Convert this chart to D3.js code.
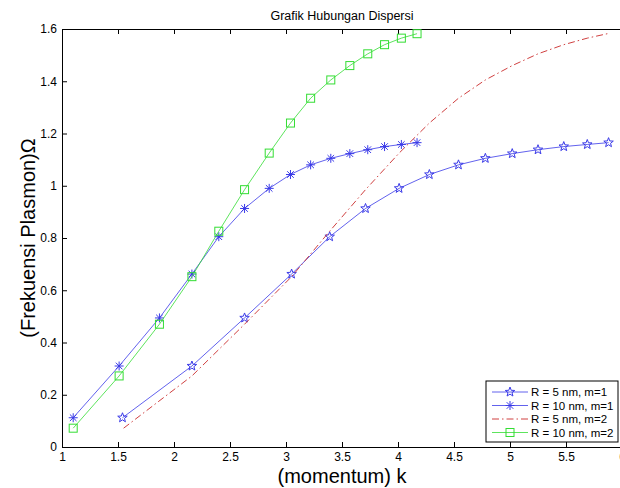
<!DOCTYPE html>
<html>
<head>
<meta charset="utf-8">
<script src="https://cdn.jsdelivr.net/npm/d3@7"></script>
<style>
  body { margin: 0; background: #fff; }
  svg { display: block; font-family: Arial, "Liberation Sans", sans-serif; }
</style>
</head>
<body>
<svg id="chart"></svg>
<script>
const width = 620;
const height = 488;

// data
const k5m1 = [1.54, 2.16, 2.63, 3.05, 3.39, 3.71, 4.01, 4.28, 4.54, 4.78, 5.02, 5.25, 5.48, 5.69, 5.88];
const k10 = [1.10, 1.51, 1.87, 2.16, 2.40, 2.63, 2.85, 3.04, 3.22, 3.40, 3.57, 3.73, 3.88, 4.03, 4.17];
const omegaM1 = [0.112, 0.31, 0.494, 0.662, 0.805, 0.913, 0.99, 1.043, 1.08, 1.105, 1.123, 1.138, 1.15, 1.158, 1.165];
const k5m2 = [1.55, 2.16, 2.63, 3.05, 3.39, 3.71, 4.01, 4.28, 4.54, 4.78, 5.02, 5.25, 5.48, 5.69, 5.87];
const omegaM2 = [0.072, 0.272, 0.47, 0.652, 0.826, 0.985, 1.125, 1.24, 1.335, 1.405, 1.46, 1.505, 1.54, 1.565, 1.582];

const xTicks = [1, 1.5, 2, 2.5, 3, 3.5, 4, 4.5, 5, 5.5, 6];
const yTicks = [0, 0.2, 0.4, 0.6, 0.8, 1, 1.2, 1.4, 1.6];

const series = [
    { name: "R = 5 nm, m=1", k: k5m1, w: omegaM1, color: "#3a3ae8", marker: "star", dash: null },
    { name: "R = 10 nm, m=1", k: k10, w: omegaM1, color: "#3a3ae8", marker: "asterisk", dash: null },
    { name: "R = 5 nm, m=2", k: k5m2, w: omegaM2, color: "#d04040", marker: null, dash: "7,3,1.5,3" },
    { name: "R = 10 nm, m=2", k: k10, w: omegaM2, color: "#33dd33", marker: "square", dash: null }
];

const margin = { left: 62, top: 29 };
const plotW = 560, plotH = 418;

const svg = d3.select("#chart")
    .attr("width", width)
    .attr("height", height);

const x = d3.scaleLinear().domain([1, 6]).range([margin.left, margin.left + plotW]);
const y = d3.scaleLinear().domain([0, 1.6]).range([margin.top + plotH, margin.top]);

// axes box with inward ticks (matlab style)
const axisBottomG = svg.append("g")
    .attr("transform", `translate(0,${margin.top + plotH})`)
    .call(d3.axisBottom(x).tickValues(xTicks).tickFormat(d3.format("")).tickSizeInner(-5).tickSizeOuter(0).tickPadding(5));
const axisTopG = svg.append("g")
    .attr("transform", `translate(0,${margin.top})`)
    .call(d3.axisTop(x).tickValues(xTicks).tickFormat("").tickSizeInner(-5).tickSizeOuter(0));
const axisLeftG = svg.append("g")
    .attr("transform", `translate(${margin.left},0)`)
    .call(d3.axisLeft(y).tickValues(yTicks).tickFormat(d3.format("")).tickSizeInner(-5).tickSizeOuter(0).tickPadding(5));

svg.selectAll(".domain").attr("stroke", "#000").attr("stroke-width", 1);
svg.selectAll(".tick line").attr("stroke", "#000");
svg.selectAll(".tick text").attr("font-size", 12).attr("fill", "#000")
    .attr("font-family", "Arial, 'Liberation Sans', sans-serif");
axisBottomG.selectAll(".tick text").attr("dy", "0.72em");

// title and labels
svg.append("text")
    .attr("x", margin.left + plotW / 2)
    .attr("y", 20)
    .attr("text-anchor", "middle")
    .attr("font-size", 12.5)
    .text("Grafik Hubungan Dispersi");

svg.append("text")
    .attr("x", margin.left + plotW / 2)
    .attr("y", 483)
    .attr("text-anchor", "middle")
    .attr("font-size", 20)
    .text("(momentum) k");

svg.append("text")
    .attr("transform", `translate(35,${margin.top + plotH / 2}) rotate(-90)`)
    .attr("text-anchor", "middle")
    .attr("font-size", 20)
    .text("(Frekuensi Plasmon)\u03A9");

// marker drawing
function drawMarker(g, type, color) {
    if (type === "star") {
        const pts = d3.range(10).map(i => {
            const r = i % 2 === 0 ? 5 : 2.1;
            const a = -Math.PI / 2 + i * Math.PI / 5;
            return [r * Math.cos(a), r * Math.sin(a)];
        });
        g.append("polygon").attr("points", pts.map(p => p.join(",")).join(" "))
            .attr("fill", "none").attr("stroke", color).attr("stroke-width", 1);
    } else if (type === "asterisk") {
        const s = 4.5, d = 3.3;
        g.append("path")
            .attr("d", `M${-s},0L${s},0M0,${-s}L0,${s}M${-d},${-d}L${d},${d}M${-d},${d}L${d},${-d}`)
            .attr("stroke", color).attr("stroke-width", 1);
    } else if (type === "square") {
        g.append("rect").attr("x", -4).attr("y", -4).attr("width", 8).attr("height", 8)
            .attr("fill", "none").attr("stroke", color).attr("stroke-width", 1);
    }
}

const line = d3.line().x(d => x(d[0])).y(d => y(d[1]));

series.forEach(s => {
    const pts = s.k.map((k, i) => [k, s.w[i]]);
    svg.append("path")
        .datum(pts)
        .attr("fill", "none")
        .attr("stroke", s.color)
        .attr("stroke-width", s.dash ? 1 : 0.8)
        .attr("stroke-dasharray", s.dash)
        .attr("d", line);
    if (s.marker) {
        pts.forEach(p => {
            const g = svg.append("g").attr("transform", `translate(${x(p[0])},${y(p[1])})`);
            drawMarker(g, s.marker, s.color);
        });
    }
});

// legend
const legend = svg.append("g").attr("transform", "translate(486,381)");
legend.append("rect")
    .attr("width", 132).attr("height", 61)
    .attr("fill", "#fff").attr("stroke", "#000").attr("stroke-width", 1);

series.forEach((s, i) => {
    const row = legend.append("g").attr("transform", `translate(0,${11 + i * 13.5})`);
    row.append("line")
        .attr("x1", 6).attr("x2", 42)
        .attr("stroke", s.color)
        .attr("stroke-width", s.dash ? 1 : 0.8)
        .attr("stroke-dasharray", s.dash);
    if (s.marker) {
        const g = row.append("g").attr("transform", "translate(24,0)");
        drawMarker(g, s.marker, s.color);
    }
    row.append("text")
        .attr("x", 45).attr("y", 4)
        .attr("font-size", 11.5)
        .text(s.name);
});
</script>
</body>
</html>
